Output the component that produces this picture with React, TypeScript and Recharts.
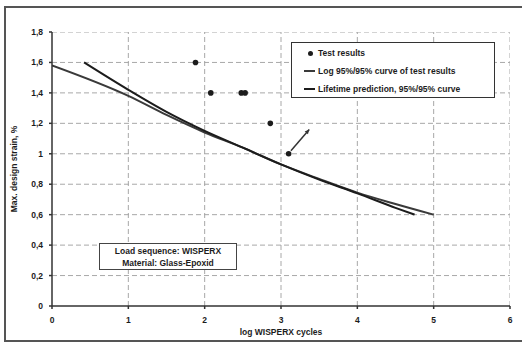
// S-N style strain chart: test results, log 95%/95% curve and lifetime prediction
import { ComposedChart, Line, Scatter, XAxis, YAxis, ReferenceLine } from "recharts";

const X_TICKS = [0, 1, 2, 3, 4, 5, 6];
const Y_TICKS = [0, 0.2, 0.4, 0.6, 0.8, 1, 1.2, 1.4, 1.6, 1.8];

const testX = [1.88, 2.08, 2.48, 2.53, 2.86, 3.1];
const testY = [1.6, 1.4, 1.4, 1.4, 1.2, 1.0];

const logCurveX = [0, 1, 1.5, 2, 2.5, 3, 3.5, 4, 4.5, 5];
const logCurveY = [1.58, 1.38, 1.255, 1.14, 1.04, 0.93, 0.835, 0.745, 0.67, 0.6];

const lifeX = [0.42, 1, 1.5, 2, 2.5, 3, 3.5, 4, 4.5, 4.75];
const lifeY = [1.6, 1.42, 1.275, 1.15, 1.04, 0.93, 0.83, 0.74, 0.645, 0.6];

const arrowFrom = { x: 3.13, y: 1.02 };
const arrowTo = { x: 3.37, y: 1.16 };

const FONT = "'Liberation Sans', Arial, sans-serif";
const INK = "#1c1c1c";
const GRID = "#a8a8a8";

const testData = testX.map((x, i) => ({ x, y: testY[i] }));
const logData = logCurveX.map((x, i) => ({ x, y: logCurveY[i] }));
const lifeData = lifeX.map((x, i) => ({ x, y: lifeY[i] }));

// grid drawn as dashed series so it goes through the same scales
const xMin = X_TICKS[0];
const xMax = X_TICKS[X_TICKS.length - 1];
const yMin = Y_TICKS[0];
const yMax = Y_TICKS[Y_TICKS.length - 1];
const hGrid = Y_TICKS.filter((v) => v > 0).map((v) => [{ x: xMin, y: v }, { x: xMax, y: v }]);
const vGrid = X_TICKS.filter((v) => v > 0).map((v) => [{ x: v, y: yMin }, { x: v, y: yMax }]);

const fmtY = (v: number) => (Number.isInteger(v) ? String(v) : v.toFixed(1).replace(".", ","));

function Arrow(props: any) {
  const { x1, y1, x2, y2 } = props;
  const a = Math.atan2(y2 - y1, x2 - x1);
  const len = 5;
  const p1 = [x2 - len * Math.cos(a - 0.45), y2 - len * Math.sin(a - 0.45)];
  const p2 = [x2 - len * Math.cos(a + 0.45), y2 - len * Math.sin(a + 0.45)];
  return (
    <g>
      <line x1={x1} y1={y1} x2={x2} y2={y2} stroke="#333" strokeWidth={1.5} />
      <polygon points={`${x2},${y2} ${p1[0]},${p1[1]} ${p2[0]},${p2[1]}`} fill="#333" />
    </g>
  );
}

const Dot = (p: any) => <circle cx={p.cx} cy={p.cy} r={2.8} fill={INK} />;

function LegendBox() {
  const row = { display: "flex", alignItems: "center", height: 18, whiteSpace: "nowrap" } as const;
  return (
    <div
      style={{
        position: "absolute",
        left: 291,
        top: 42,
        width: 204,
        height: 56,
        boxSizing: "border-box",
        border: "1.5px solid #333",
        background: "#fff",
        padding: "1px 6px 1px 12px",
        fontFamily: FONT,
        fontWeight: 700,
        fontSize: 8.5,
        color: INK,
      }}
    >
      <div style={row}>
        <span style={{ width: 12, display: "inline-flex", justifyContent: "center", marginRight: 2 }}>
          <span style={{ width: 5, height: 5, borderRadius: 3, background: INK }} />
        </span>
        Test results
      </div>
      <div style={row}>
        <span style={{ width: 11, height: 1.5, background: "#3a3a3a", marginRight: 3 }} />
        Log 95%/95% curve of test results
      </div>
      <div style={row}>
        <span style={{ width: 11, height: 2, background: INK, marginRight: 3 }} />
        Lifetime prediction, 95%/95% curve
      </div>
    </div>
  );
}

export default function App() {
  return (
    <div
      style={{
        position: "absolute",
        left: 0,
        top: 0,
        width: 522,
        height: 344,
        overflow: "hidden",
        background: "#fff",
      }}
    >
      <div
        style={{
          position: "absolute",
          left: 4,
          top: 6,
          width: 518,
          height: 336,
          boxSizing: "border-box",
          borderTop: "2px solid #555",
          borderLeft: "2px solid #555",
          borderBottom: "2px solid #555",
        }}
      />
      <ComposedChart
        width={522}
        height={344}
        margin={{ top: 32, right: 12, bottom: 0, left: 0 }}
        style={{ position: "absolute", left: 0, top: 0 }}
      >
        <XAxis
          type="number"
          dataKey="x"
          domain={[0, 6]}
          ticks={X_TICKS}
          allowDataOverflow
          stroke="#333"
          strokeWidth={1.5}
          tickSize={3}
          tickMargin={8}
          height={38}
          tick={{ fill: INK, fontSize: 8.5, fontWeight: 700, fontFamily: FONT }}
          label={{
            value: "log WISPERX cycles",
            position: "insideBottom",
            offset: 9,
            fill: INK,
            fontSize: 8.5,
            fontWeight: 700,
            fontFamily: FONT,
          }}
        />
        <YAxis
          type="number"
          dataKey="y"
          domain={[0, 1.8]}
          ticks={Y_TICKS}
          allowDataOverflow
          width={52}
          stroke="#333"
          strokeWidth={1.5}
          tickSize={3}
          tickMargin={6}
          tickFormatter={fmtY}
          tick={{ fill: INK, fontSize: 8.5, fontWeight: 700, fontFamily: FONT }}
          label={(p: any) => {
            const vb = p.viewBox || {};
            const cy = (vb.y ?? 32) + (vb.height ?? 274) / 2;
            return (
              <text
                x={15}
                y={cy}
                transform={`rotate(-90 15 ${cy})`}
                textAnchor="middle"
                dominantBaseline="middle"
                fill={INK}
                fontSize={8.5}
                fontWeight={700}
                fontFamily={FONT}
              >
                Max. design strain, %
              </text>
            );
          }}
        />
        {hGrid.map((d, i) => (
          <Line key={`h${i}`} data={d} dataKey="y" type="linear" stroke={GRID} strokeWidth={1} strokeDasharray="5 3" dot={false} activeDot={false} isAnimationActive={false} />
        ))}
        {vGrid.map((d, i) => (
          <Line key={`v${i}`} data={d} dataKey="y" type="linear" stroke={GRID} strokeWidth={1} strokeDasharray="5 3" dot={false} activeDot={false} isAnimationActive={false} />
        ))}
        <Line data={logData} dataKey="y" type="monotone" stroke="#3a3a3a" strokeWidth={2} dot={false} isAnimationActive={false} />
        <Line data={lifeData} dataKey="y" type="monotone" stroke={INK} strokeWidth={2} dot={false} isAnimationActive={false} />
        <Scatter data={testData} dataKey="y" fill={INK} shape={<Dot />} isAnimationActive={false} />
        <ReferenceLine segment={[arrowFrom, arrowTo]} shape={<Arrow />} ifOverflow="visible" />
      </ComposedChart>
      <LegendBox />
      <div
        style={{
          position: "absolute",
          left: 99,
          top: 243,
          width: 138,
          height: 27,
          boxSizing: "border-box",
          border: "1.5px solid #444",
          background: "#fff",
          fontFamily: FONT,
          fontWeight: 700,
          fontSize: 8.5,
          color: INK,
          textAlign: "center",
          lineHeight: "12px",
          paddingTop: 0.5,
        }}
      >
        <div>Load sequence: WISPERX</div>
        <div>Material: Glass-Epoxid</div>
      </div>
    </div>
  );
}
